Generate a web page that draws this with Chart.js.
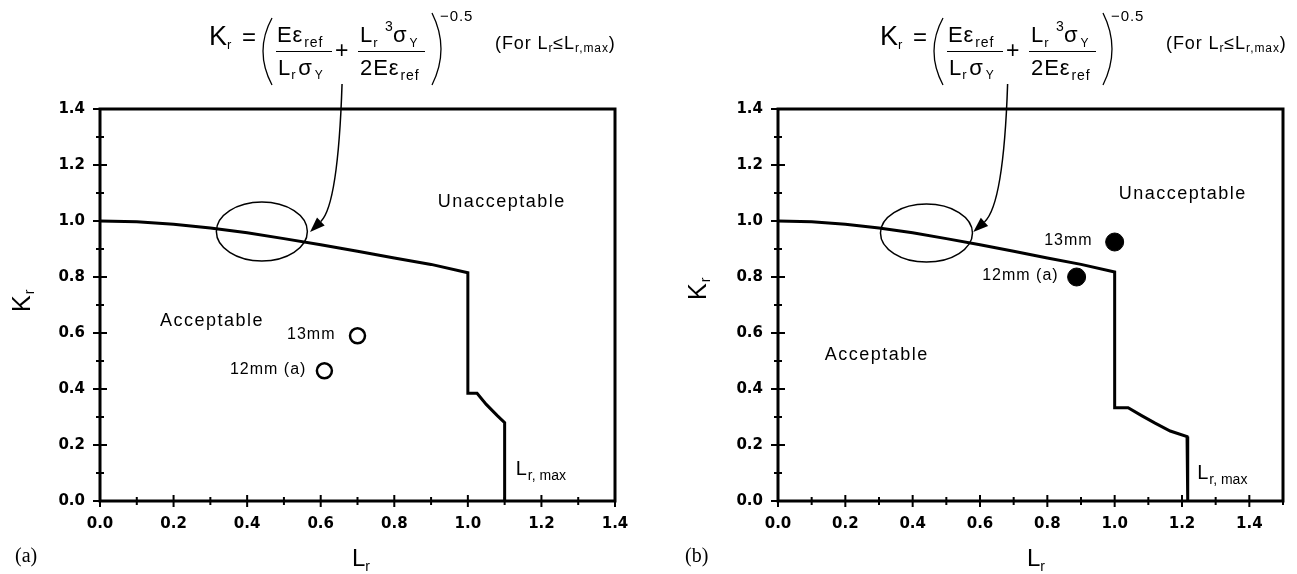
<!DOCTYPE html>
<html>
<head>
<meta charset="utf-8">
<script src="https://cdn.jsdelivr.net/npm/chart.js@4/dist/chart.umd.min.js"></script>
<style>
  html, body { margin: 0; padding: 0; background: #fff; }
  #wrap { position: relative; width: 1297px; height: 574px; overflow: hidden; }
  canvas { position: absolute; top: 0; }
</style>
</head>
<body>
<div id="wrap">
  <canvas id="chartA" width="660" height="574" style="left:0"></canvas>
  <canvas id="chartB" width="637" height="574" style="left:660px"></canvas>
</div>
<script>
// failure assessment curves (Lr, Kr)
const lrA = [0, 0.1, 0.2, 0.3, 0.4, 0.5, 0.6, 0.7, 0.8, 0.9, 1.0, 1.0, 1.025, 1.05, 1.08, 1.10, 1.10];
const krA = [1.0, 0.997, 0.988, 0.975, 0.958, 0.937, 0.915, 0.892, 0.868, 0.845, 0.815, 0.385, 0.385, 0.345, 0.305, 0.28, 0.0];
const lrB = [0, 0.1, 0.2, 0.3, 0.4, 0.5, 0.6, 0.7, 0.8, 0.9, 1.0, 1.0, 1.04, 1.08, 1.12, 1.165, 1.215, 1.217];
const krB = [1.0, 0.997, 0.988, 0.975, 0.958, 0.937, 0.915, 0.892, 0.868, 0.845, 0.818, 0.333, 0.333, 0.305, 0.278, 0.25, 0.23, 0.0];

// assessment points
const specimens = ["13mm", "12mm (a)"];
const ptLrA = [0.70, 0.61];
const ptKrA = [0.59, 0.465];
const ptLrB = [1.0, 0.887];
const ptKrB = [0.925, 0.80];

const tickLabels = ["0.0", "0.2", "0.4", "0.6", "0.8", "1.0", "1.2", "1.4"];

const SANS = "'Liberation Sans', Arial, sans-serif";

function txt(ctx, s, x, y, size, opts) {
  opts = opts || {};
  ctx.font = (opts.weight || "normal") + " " + size + "px " + (opts.family || SANS);
  ctx.letterSpacing = opts.ls || "0px";
  ctx.textAlign = opts.align || "left";
  ctx.textBaseline = opts.base || "alphabetic";
  ctx.fillText(s, x, y);
  const w = ctx.measureText(s).width;
  ctx.letterSpacing = "0px";
  return x + w;
}

function drawFormula(ctx, ox) {
  const t = (s, x, y, size) => txt(ctx, s, ox + x, y, size, { ls: "0.9px" }) - ox;
  let x;
  t("K", 209, 45, 27);
  t("r", 227, 49, 13);
  t("=", 242, 45, 24);
  ctx.lineWidth = 1.3;
  ctx.beginPath();
  ctx.moveTo(ox + 272, 18); ctx.quadraticCurveTo(ox + 254, 51, ox + 272, 85);
  ctx.moveTo(ox + 432, 13); ctx.quadraticCurveTo(ox + 450, 49, ox + 432, 85);
  ctx.stroke();
  x = t("Eε", 277, 42, 22); t("ref", x + 1, 47, 14);
  x = t("L", 278, 75, 22); x = t("r", x, 79, 13); x = t("σ", x + 2, 75, 22); t("Y", x + 2, 79, 12);
  t("+", 335, 58, 23);
  x = t("L", 360, 42, 22); t("r", x, 47, 13); t("3", 385, 31, 14);
  x = t("σ", 393, 42, 22); t("Y", x + 2, 47, 12);
  x = t("2Eε", 360, 75, 22); t("ref", x + 1, 80, 14);
  ctx.lineWidth = 1;
  ctx.beginPath();
  ctx.moveTo(ox + 276, 51.5); ctx.lineTo(ox + 332, 51.5);
  ctx.moveTo(ox + 358, 51.5); ctx.lineTo(ox + 425, 51.5);
  ctx.stroke();
  t("−0.5", 440, 21, 15);
  x = t("(For L", 495, 49, 18); x = t("r", x, 52, 12);
  x = t("≤L", x, 49, 18); x = t("r,max", x, 52, 12); t(")", x, 49, 18);
}

const framePlugin = {
  id: "frame",
  afterDatasetsDraw(chart, args, o) {
    const ctx = chart.ctx, a = chart.chartArea;
    const xs = chart.scales.x, ys = chart.scales.y;
    ctx.save();
    ctx.fillStyle = "#000";
    ctx.strokeStyle = "#000";

    // ticks
    ctx.lineWidth = 2;
    ctx.beginPath();
    xs.ticks.forEach(tk => {
      const px = xs.getPixelForValue(tk.value);
      const major = Math.round(tk.value * 10) % 2 === 0;
      const l = major ? 6 : 4;
      ctx.moveTo(px, a.bottom - l); ctx.lineTo(px, a.bottom + l);
    });
    ys.ticks.forEach(tk => {
      const py = ys.getPixelForValue(tk.value);
      const major = Math.round(tk.value * 10) % 2 === 0;
      const l = major ? 7 : 4;
      ctx.moveTo(a.left - l, py); ctx.lineTo(a.left + l, py);
    });
    ctx.stroke();

    // box
    ctx.lineWidth = 3;
    ctx.strokeRect(a.left, a.top, a.right - a.left, a.bottom - a.top);

    // ellipse + arrow
    const e = o.ellipse;
    ctx.lineWidth = 1.5;
    ctx.beginPath();
    ctx.ellipse(xs.getPixelForValue(e.lr), ys.getPixelForValue(e.kr), e.rx, e.ry, 0, 0, Math.PI * 2);
    ctx.stroke();
    const sx = xs.getPixelForValue(o.arrow.fromLr), sy = ys.getPixelForValue(o.arrow.fromKr);
    const tx = xs.getPixelForValue(o.arrow.toLr), ty = ys.getPixelForValue(o.arrow.toKr);
    const cx = sx - 4, cy = ty - 27;
    const ang = Math.atan2(ty - cy, tx - cx);
    const hl = 15, hw = 5.5;
    const bx = tx - hl * Math.cos(ang), by = ty - hl * Math.sin(ang);
    ctx.beginPath();
    ctx.moveTo(sx, sy);
    ctx.quadraticCurveTo(cx, cy, bx, by);
    ctx.stroke();
    ctx.beginPath();
    ctx.moveTo(tx, ty);
    ctx.lineTo(bx + hw * Math.sin(ang), by - hw * Math.cos(ang));
    ctx.lineTo(bx - hw * Math.sin(ang), by + hw * Math.cos(ang));
    ctx.closePath();
    ctx.fill();

    // region labels
    o.labels.forEach(l => {
      txt(ctx, l.text, xs.getPixelForValue(l.lr), ys.getPixelForValue(l.kr), 18, { ls: "1.5px" });
    });
    // specimen labels next to markers
    const pts = chart.data.datasets[1].data;
    pts.forEach((p, i) => {
      txt(ctx, specimens[i], xs.getPixelForValue(p.x) - o.labelGap[i], ys.getPixelForValue(p.y) - 1, 16,
        { ls: "1px", align: "right", base: "middle" });
    });
    // Lr,max
    const mx = xs.getPixelForValue(o.lrmax.lr), my = ys.getPixelForValue(o.lrmax.kr);
    let x = txt(ctx, "L", mx, my, 20);
    txt(ctx, "r, max", x + 1, my + 5, 14);

    // axis titles
    ctx.save();
    ctx.translate(o.yTitle[0], o.yTitle[1]);
    ctx.rotate(-Math.PI / 2);
    x = txt(ctx, "K", 0, 0, 25);
    txt(ctx, "r", x + 1, 4, 14);
    ctx.restore();
    x = txt(ctx, "L", o.xTitle[0], o.xTitle[1], 24);
    txt(ctx, "r", x, o.xTitle[1] + 5, 14);

    txt(ctx, o.panel[2], o.panel[0], o.panel[1], 20, { family: "'Liberation Serif', 'Times New Roman', serif" });

    drawFormula(ctx, o.formulaX);
    ctx.restore();
  }
};

function makeChart(id, lr, kr, pLr, pKr, xMax, yWidth, padRight, filled, frame) {
  const tickFont = { family: "'DejaVu Sans', sans-serif", size: 15, weight: "bold" };
  const lbl = v => {
    const i = Math.round(v * 10);
    return i % 2 === 0 && tickLabels[i / 2] !== undefined ? tickLabels[i / 2] : "";
  };
  return new Chart(document.getElementById(id), {
    type: "scatter",
    data: {
      datasets: [
        {
          data: lr.map((v, i) => ({ x: v, y: kr[i] })),
          showLine: true,
          borderColor: "#000",
          borderWidth: 3,
          pointRadius: 0,
          tension: 0,
          clip: false
        },
        {
          data: pLr.map((v, i) => ({ x: v, y: pKr[i] })),
          pointRadius: filled ? 9 : 7.5,
          pointBorderWidth: filled ? 1 : 2.5,
          pointBackgroundColor: filled ? "#000" : "#fff",
          pointBorderColor: "#000",
          clip: false
        }
      ]
    },
    options: {
      responsive: false,
      animation: false,
      layout: { padding: { top: 109, right: padRight, bottom: 0, left: 0 } },
      plugins: { legend: { display: false }, tooltip: { enabled: false }, frame: frame },
      scales: {
        x: {
          type: "linear", min: 0, max: xMax,
          grid: { display: false, drawTicks: false },
          border: { display: false },
          ticks: { stepSize: 0.1, autoSkip: false, maxRotation: 0, color: "#000", font: tickFont, padding: 14, callback: lbl },
          afterFit: s => { s.height = 73; }
        },
        y: {
          type: "linear", min: 0, max: 1.4,
          grid: { display: false, drawTicks: false },
          border: { display: false },
          ticks: { stepSize: 0.1, autoSkip: false, color: "#000", font: tickFont, padding: 15, callback: lbl },
          afterFit: s => { s.width = yWidth; }
        }
      }
    },
    plugins: [framePlugin]
  });
}

makeChart("chartA", lrA, krA, ptLrA, ptKrA, 1.4, 100, 45, false, {
  ellipse: { lr: 0.44, kr: 0.9625, rx: 45.5, ry: 29.5 },
  arrow: { fromLr: 0.658, fromKr: 1.489, toLr: 0.571, toKr: 0.961 },
  labels: [
    { text: "Unacceptable", lr: 0.918, kr: 1.05 },
    { text: "Acceptable", lr: 0.163, kr: 0.625 }
  ],
  labelGap: [22, 18],
  lrmax: { lr: 1.13, kr: 0.093 },
  yTitle: [30, 312],
  xTitle: [352, 566],
  panel: [15, 562, "(a)"],
  formulaX: 0
});

makeChart("chartB", lrB, krB, ptLrB, ptKrB, 1.5, 118, 2, true, {
  ellipse: { lr: 0.441, kr: 0.957, rx: 46, ry: 29 },
  arrow: { fromLr: 0.682, fromKr: 1.489, toLr: 0.58, toKr: 0.961 },
  labels: [
    { text: "Unacceptable", lr: 1.012, kr: 1.078 },
    { text: "Acceptable", lr: 0.139, kr: 0.504 }
  ],
  labelGap: [22, 18],
  lrmax: { lr: 1.245, kr: 0.079 },
  yTitle: [46, 300],
  xTitle: [367, 566],
  panel: [25, 562, "(b)"],
  formulaX: 11
});
</script>
</body>
</html>
